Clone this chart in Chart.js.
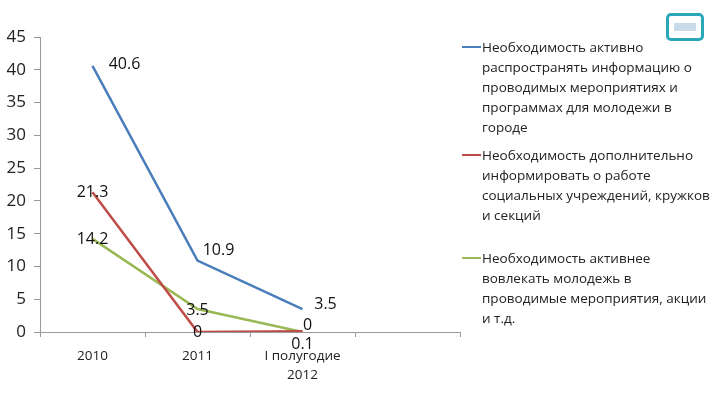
<!DOCTYPE html>
<html><head><meta charset="utf-8">
<script src="https://cdn.jsdelivr.net/npm/chart.js@4/dist/chart.umd.min.js"></script>
<style>
html,body{margin:0;padding:0;background:#fff;}
#wrap{position:relative;width:720px;height:405px;}
canvas{position:absolute;left:0;top:0;}
.leg{position:absolute;left:462px;font-family:"Open Sans","DejaVu Sans",sans-serif;font-size:13.5px;line-height:20px;color:#222;width:258px;white-space:nowrap;}
.leg .ln{position:absolute;left:0;top:9px;width:19px;height:1.5px;}
.leg .tx{margin-left:20px;}
.logo{position:absolute;left:666px;top:13px;width:32px;height:22px;border:3px solid #2aa7b8;border-radius:5px;}
.logo i{position:absolute;left:5px;top:7px;width:22px;height:8px;background:#c9dbe8;}
</style></head>
<body><div id="wrap"><canvas id="c" width="720" height="405"></canvas>
<div class="logo"><i></i></div>
<div class="leg" style="top:37px"><div class="ln" style="background:#4A7EBB"></div><div class="tx">Необходимость активно<br>распространять информацию о<br>проводимых мероприятиях и<br>программах для молодежи в<br>городе</div></div>
<div class="leg" style="top:145px"><div class="ln" style="background:#BE4B48"></div><div class="tx">Необходимость дополнительно<br>информировать о работе<br>социальных учреждений, кружков<br>и секций</div></div>
<div class="leg" style="top:248px"><div class="ln" style="background:#98B954"></div><div class="tx">Необходимость активнее<br>вовлекать молодежь в<br>проводимые мероприятия, акции<br>и т.д.</div></div>
</div>
<script>
const categories = ["2010", "2011", ["I полугодие", "2012"], ""];
const seriesNames = [
  "Необходимость активно распространять информацию о проводимых мероприятиях и программах для молодежи в городе",
  "Необходимость дополнительно информировать о работе социальных учреждений, кружков и секций",
  "Необходимость активнее вовлекать молодежь в проводимые мероприятия, акции и т.д."
];
const seriesInform = [40.6, 10.9, 3.5, null];
const seriesSocial = [21.3, 0, 0.1, null];
const seriesInvolve = [14.2, 3.5, 0, null];
const yTicks = [0, 5, 10, 15, 20, 25, 30, 35, 40, 45];

const colors = ["#4A7EBB", "#BE4B48", "#98B954"];
// label offsets (dx, dy) relative to point, per series
const labelOffsets = [
  [[32, -1], [21, -10], [23, -5]],
  [[0, 0], [0, 0], [0, 13]],
  [[0, 1], [0, 1], [5, -7]]
];

const labelPlugin = {
  id: 'dlabels',
  afterDatasetsDraw(chart) {
    const ctx = chart.ctx;
    ctx.save();
    ctx.font = '16px "Open Sans", "DejaVu Sans", sans-serif';
    ctx.fillStyle = '#111';
    ctx.textAlign = 'center';
    ctx.textBaseline = 'middle';
    chart.data.datasets.forEach((ds, i) => {
      const meta = chart.getDatasetMeta(i);
      meta.data.forEach((pt, j) => {
        const v = ds.data[j];
        if (v === null || v === undefined) return;
        const off = labelOffsets[i][j];
        ctx.fillText(String(v), pt.x + off[0], pt.y + off[1]);
      });
    });
    ctx.restore();
  }
};

new Chart(document.getElementById('c'), {
  type: 'line',
  data: {
    labels: categories,
    datasets: [seriesInform, seriesSocial, seriesInvolve].map((d, i) => ({
      label: seriesNames[i], data: d, borderColor: colors[i], backgroundColor: colors[i],
      borderWidth: 2.5, pointRadius: 0, tension: 0, spanGaps: false
    }))
  },
  options: {
    responsive: false, animation: false,
    layout: { padding: { top: 37, right: 260, left: 0, bottom: 0 } },
    plugins: { legend: { display: false }, tooltip: { enabled: false } },
    scales: {
      x: {
        offset: true,
        grid: { offset: true, drawOnChartArea: false, tickLength: 5, color: '#9a9a9a' },
        border: { color: '#9a9a9a' },
        ticks: { color: '#222', font: { family: '"Open Sans", "DejaVu Sans", sans-serif', size: 13.5, lineHeight: 1.45 }, padding: 9, maxRotation: 0, autoSkip: false },
        afterFit(s) { s.height = 73; }
      },
      y: {
        min: 0, max: 45,
        afterBuildTicks(s) { s.ticks = yTicks.map(v => ({ value: v })); },
        grid: { drawOnChartArea: false, tickLength: 6, color: '#9a9a9a' },
        border: { color: '#9a9a9a' },
        ticks: { color: '#222', font: { family: '"Open Sans", "DejaVu Sans", sans-serif', size: 17 }, padding: 8 },
        afterFit(s) { s.width = 40; }
      }
    }
  },
  plugins: [labelPlugin]
});
</script></body></html>
